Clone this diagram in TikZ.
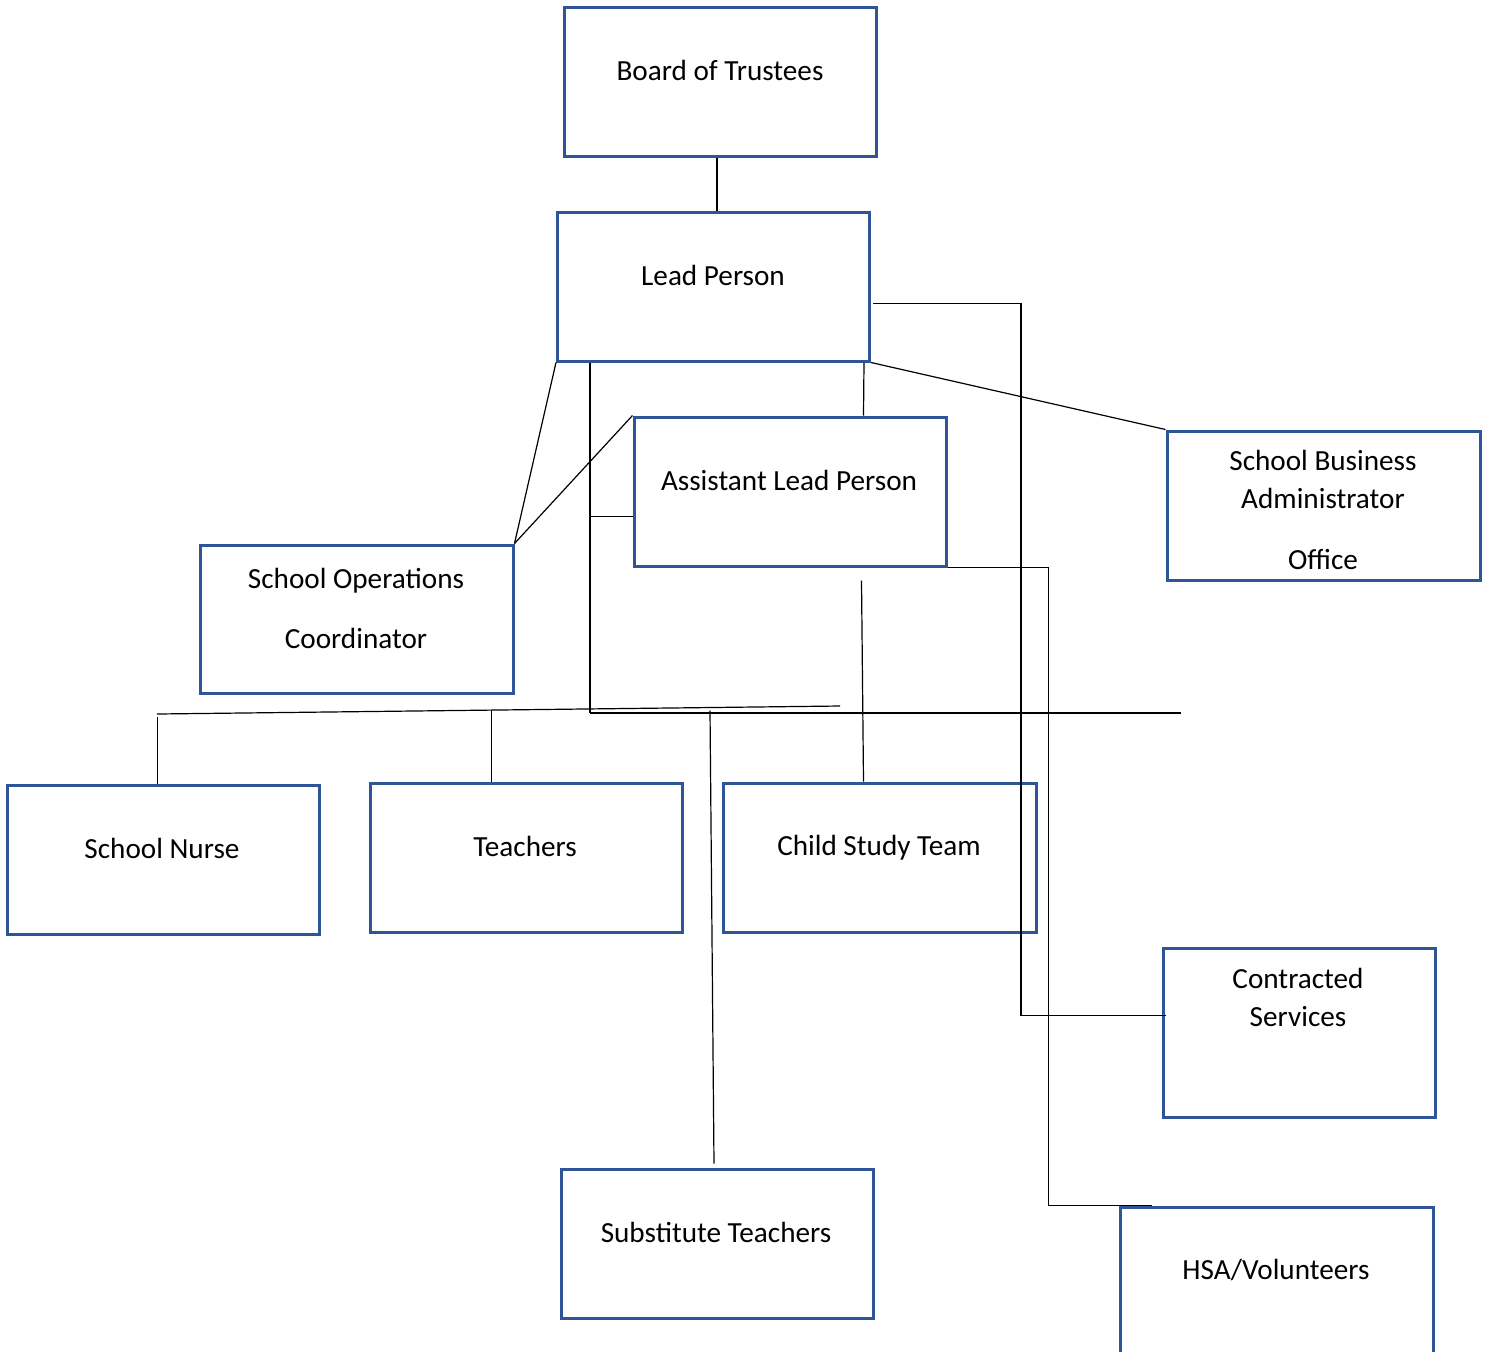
\documentclass[tikz,border=0pt]{standalone}
\usepackage{fontspec}
\setmainfont{Carlito}
\usetikzlibrary{calc}
\definecolor{boxblue}{RGB}{47,85,151}
\newcommand{\orgfont}{\fontsize{14.6}{19}\selectfont}
\tikzset{
  orgbox/.style={draw=boxblue,line width=1.5pt,inner sep=0pt,
    minimum width=156pt,minimum height=74.5pt},
  orgtext/.style={font=\orgfont,align=center,inner sep=0pt},
  link/.style={line width=0.6pt}
}

\begin{document}
\begin{tikzpicture}[x=0.5pt,y=-0.5pt]
  \useasboundingbox (0,0) rectangle (1489,1351);
  \clip (0,0) rectangle (1489,1351);
  % boxes
  \node[orgbox] (board) at (720,81.5) {};
  \node[orgbox] (lead) at (713.5,286.5) {};
  \node[orgbox] (asst) at (790,491.5) {};
  \node[orgbox,minimum width=156.5pt] (sba) at (1323.5,505.5) {};
  \node[orgbox,minimum width=156.5pt,minimum height=74pt] (soc) at (356.5,619) {};
  \node[orgbox] (nurse) at (163,859.5) {};
  \node[orgbox] (teach) at (526,857.5) {};
  \node[orgbox,minimum width=156.5pt] (cst) at (879.5,857.5) {};
  \node[orgbox,minimum width=136pt,minimum height=84.5pt] (contr) at (1299,1032.5) {};
  \node[orgbox] (subst) at (717,1243.5) {};
  \node[orgbox,minimum width=156.5pt,minimum height=96.5pt] (hsa) at (1276.5,1303.5) {};
  % texts
  \node[orgtext] (boardtx) at (720,70) {Board of Trustees};
  \node[orgtext] (leadtx) at (713,275) {Lead Person};
  \node[orgtext] (assttx) at (789,480) {Assistant Lead Person};
  \node[orgtext] (sbatx) at (1323,510) {School Business\\Administrator\\[11.5pt]Office};
  \node[orgtext] (soctx) at (356,608) {School Operations\\[11pt]Coordinator};
  \node[orgtext] (nursetx) at (162,848) {School Nurse};
  \node[orgtext] (teachtx) at (525,846) {Teachers};
  \node[orgtext] (csttx) at (879,848) {Child Study Team};
  \node[orgtext] (contrtx) at (1298,997) {Contracted\\Services};
  \node[orgtext] (substtx) at (716,1232) {Substitute Teachers};
  \node[orgtext] (hsatx) at (1276,1270) {HSA/Volunteers};
  % free ends
  \coordinate (busL) at (157,714);
  \coordinate (busM) at (840,706);
  \coordinate (busR) at (1181,713);
  \coordinate (boardB) at ($(board.south)+(-3,0)$);
  \coordinate (trunk) at ($(lead.south west)+(34,0)$);
  \coordinate (asstL) at ($(asst.south west)+(0,-51)$);
  \coordinate (leadR) at ($(lead.north east)+(2,93)$);
  \coordinate (contrL) at ($(contr.north west)+(4,69)$);
  \coordinate (hsaT) at ($(hsa.north west)+(33,0)$);
  % connectors
  \draw[link] (boardB) -- (boardB |- lead.north);
  \draw[link] (lead.south west) -- (soc.north east);
  \draw[link] (asst.north west) -- (soc.north east);
  \draw[link] (trunk) -- (trunk |- busR);
  \draw[link] (asstL) -- (asstL -| trunk);
  \draw[link] ($(lead.south east)+(-7,0)$) -- ($(asst.north west)+(231,0)$);
  \draw[link] (lead.south east) -- (sba.north west);
  \draw[link] (leadR) -- ++(148,0) |- (contrL);
  \draw[link] (asst.south east) -- ++(101,0) |- (hsaT);
  \draw[link] (busL) -- (busM);
  \draw[link] (trunk |- busR) -- (busR);
  \draw[link] ($(nurse.north west)+(152,0)$) -- ++(0,-67);
  \draw[link] ($(teach.north west)+(123,0)$) -- ++(0,-72);
  \draw[link] ($(cst.north west)+(142,0)$) -- ++(-2,-201);
  \draw[link] ($(subst.north)+(-3,-4)$) -- ++(-4,-453);
\end{tikzpicture}
\end{document}
